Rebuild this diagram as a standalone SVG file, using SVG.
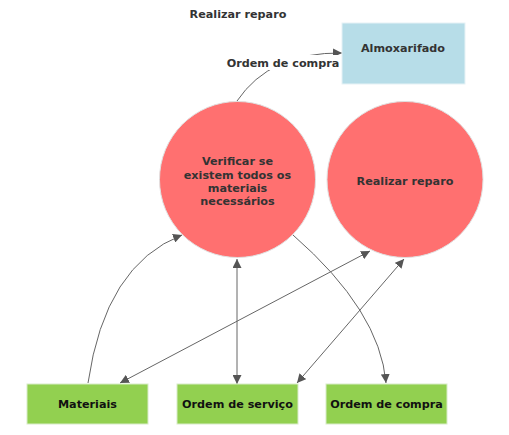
<svg xmlns="http://www.w3.org/2000/svg" width="509" height="435" viewBox="0 0 509 435">
<style>
text{font-family:"DejaVu Sans",Verdana,sans-serif;font-weight:bold;font-size:11.2px;text-anchor:middle;fill:#333}
.circ{fill:#ff7070;stroke:#e0e0e0;stroke-width:1}
.green{fill:#92d050;stroke:#d8ecc8;stroke-width:1}
.blue{fill:#b7dde8;stroke:#e6f2f6;stroke-width:1}
.gt{fill:#111}
.edge{fill:none;stroke:#666;stroke-width:1}
</style>
<defs>
<marker id="arr" viewBox="0 0 10 10" refX="10" refY="5" markerWidth="9" markerHeight="9" markerUnits="userSpaceOnUse" orient="auto-start-reverse">
<path d="M0,0 L10,5 L0,10 z" fill="#555"/>
</marker>
</defs>
<rect width="509" height="435" fill="#fff"/>
<text x="238" y="18">Realizar reparo</text>
<g id="connectors">
<path class="edge" d="M88,383 Q105,265 182,235" marker-end="url(#arr)"/>
<path class="edge" d="M120,383 L370,251" marker-start="url(#arr)" marker-end="url(#arr)"/>
<path class="edge" d="M237,259 L237,384" marker-start="url(#arr)" marker-end="url(#arr)"/>
<path class="edge" d="M297,383 L404,259" marker-start="url(#arr)" marker-end="url(#arr)"/>
<path class="edge" d="M293,235 Q380,311 386,383" marker-end="url(#arr)"/>
<path class="edge" d="M237,101 Q270,52 342,53" marker-end="url(#arr)"/>
<rect x="225" y="55" width="116" height="15" fill="#fff"/>
<text x="283" y="67">Ordem de compra</text>
</g>
<g id="almoxarifado">
<rect class="blue" x="342" y="23" width="123" height="61"/>
<text x="403" y="52">Almoxarifado</text>
</g>
<g id="verificar">
<circle class="circ" cx="237.5" cy="179.5" r="78"/>
<text x="237.5" y="165">Verificar se</text>
<text x="237.5" y="178.5">existem todos os</text>
<text x="237.5" y="192">materiais</text>
<text x="237.5" y="205">necessários</text>
</g>
<g id="realizar">
<circle class="circ" cx="405" cy="179.5" r="78"/>
<text x="405" y="185">Realizar reparo</text>
</g>
<g id="materiais">
<rect class="green" x="27" y="384" width="121" height="40"/>
<text class="gt" x="87.5" y="408">Materiais</text>
</g>
<g id="ordem-servico">
<rect class="green" x="177" y="384" width="121" height="40"/>
<text class="gt" x="237.5" y="408">Ordem de serviço</text>
</g>
<g id="ordem-compra">
<rect class="green" x="326" y="384" width="121" height="40"/>
<text class="gt" x="386.5" y="408">Ordem de compra</text>
</g>
</svg>
